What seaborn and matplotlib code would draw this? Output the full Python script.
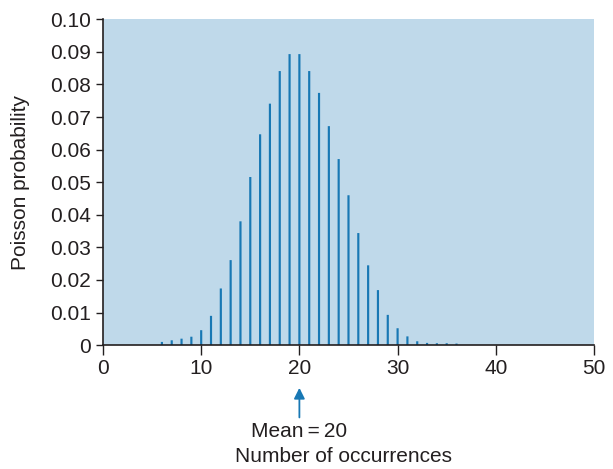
import pandas as pd
import matplotlib
matplotlib.use('Agg')
import matplotlib.pyplot as plt
import seaborn as sns

# Poisson probabilities (mean = 20)
occurrences = list(range(6, 37))
probability = [0.0010, 0.0015, 0.0020, 0.0026, 0.0046, 0.0090, 0.0174, 0.0261,
               0.0380, 0.0516, 0.0647, 0.0741, 0.0841, 0.0893, 0.0893, 0.0841,
               0.0774, 0.0672, 0.0571, 0.0460, 0.0344, 0.0245, 0.0169, 0.0093,
               0.0052, 0.0027, 0.0012, 0.0007, 0.0006, 0.0006, 0.0005]
x_ticks = [0, 10, 20, 30, 40, 50]
y_ticks = [0, 0.01, 0.02, 0.03, 0.04, 0.05, 0.06, 0.07, 0.08, 0.09, 0.10]
y_labels = ['0', '0.01', '0.02', '0.03', '0.04', '0.05', '0.06', '0.07',
            '0.08', '0.09', '0.10']
mean_value = 20

sns.set_style('ticks')
plt.rcParams['font.family'] = ['Liberation Sans', 'DejaVu Sans']

D = pd.DataFrame({'k': occurrences, 'p': probability})
FS = 15
TXT = '#231f20'
BLUE = '#1878b4'

fig = plt.figure(figsize=(6.13, 4.69), dpi=100)
ax = fig.add_axes([0.168, 0.264, 0.801, 0.695])
ax.set_facecolor('#bfd9ea')

sns.barplot(data=D, x='k', y='p', native_scale=True, width=0.22,
            color=BLUE, saturation=1, linewidth=0, ax=ax)
for bar in ax.patches:
    bar.set_snap(False)

ax.set_xlim(0, 50)
ax.set_ylim(0, 0.10)
ax.set_xticks(x_ticks)
ax.set_yticks(y_ticks)
ax.set_yticklabels(y_labels)
ax.tick_params(labelsize=FS, colors=TXT, length=5, width=1)
ax.tick_params(axis='x', length=7, pad=3)
for s in ['top', 'right']:
    ax.spines[s].set_visible(False)
for s in ['left', 'bottom']:
    ax.spines[s].set_color(TXT)
    ax.spines[s].set_linewidth(1.2)

ax.set_xlabel('')
ax.set_ylabel('Poisson probability', fontsize=FS, color=TXT)
ax.yaxis.set_label_coords(-0.148, 0.5)

# arrow marking the mean under the axis
ax.annotate('', xy=(mean_value, 0.179), xytext=(mean_value, 0.104),
            xycoords=('data', 'figure fraction'),
            textcoords=('data', 'figure fraction'), annotation_clip=False,
            arrowprops=dict(arrowstyle='-|>', color=BLUE, lw=1.3,
                            mutation_scale=16))
ax.annotate('Mean\u2009=\u200920', xy=(mean_value, 0.081),
            xycoords=('data', 'figure fraction'), ha='center', va='center',
            fontsize=FS, color=TXT, annotation_clip=False)
fig.text(0.561, 0.026, 'Number of occurrences', ha='center', va='center',
         fontsize=FS, color=TXT)

fig.savefig('out.png', dpi=100)
